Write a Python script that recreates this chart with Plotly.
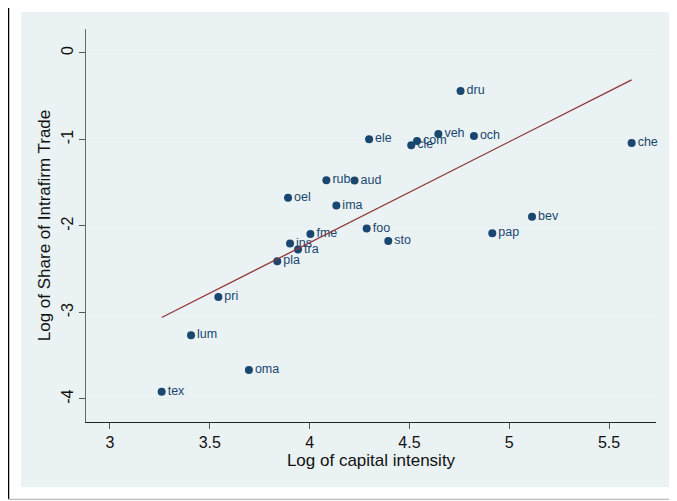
import numpy as np
import plotly.graph_objects as go

industries = ["dru", "ele", "com", "cle", "veh", "och", "che", "rub", "aud", "oel",
              "ima", "bev", "foo", "pap", "fme", "sto", "ins", "tra", "pla", "pri",
              "lum", "oma", "tex"]
log_capital = [4.756, 4.298, 4.538, 4.509, 4.645, 4.823, 5.613, 4.084, 4.225, 3.892,
               4.134, 5.114, 4.286, 4.915, 4.004, 4.394, 3.902, 3.942, 3.838, 3.543,
               3.406, 3.696, 3.259]
log_share = [-0.441, -0.997, -1.017, -1.067, -0.936, -0.960, -1.040, -1.470, -1.474, -1.674,
             -1.764, -1.892, -2.029, -2.083, -2.092, -2.174, -2.204, -2.273, -2.408, -2.821,
             -3.262, -3.665, -3.917]

x_ticks = [3, 3.5, 4, 4.5, 5, 5.5]
x_tick_text = ["3", "3.5", "4", "4.5", "5", "5.5"]
y_ticks = [0, -1, -2, -3, -4]
y_tick_text = ["0", "-1", "-2", "-3", "-4"]

NAVY = "#1A476F"
MAROON = "#90353B"
BG = "#EAF2F3"
FONT = "Liberation Sans, Arial, sans-serif"

slope, intercept = np.polyfit(log_capital, log_share, 1)
fit_x = [min(log_capital), max(log_capital)]
fit_y = [intercept + slope * v for v in fit_x]

fig = go.Figure()
fig.add_trace(go.Scatter(
    x=log_capital, y=log_share, mode="markers+text", text=industries,
    textposition="middle right", cliponaxis=False,
    textfont=dict(family=FONT, size=12.5, color=NAVY),
    marker=dict(color=NAVY, size=8, line=dict(width=0)),
    showlegend=False, hoverinfo="skip",
))
fig.add_trace(go.Scatter(
    x=fit_x, y=fit_y, mode="lines",
    line=dict(color=MAROON, width=1.3),
    showlegend=False, hoverinfo="skip",
))

# page offset of 8px (body margin) compensated: figure px = page px - 8
OFF = 8
W, H = 677, 501
L, R, T, B = 86 - OFF, 656 - OFF, 29 - OFF, 422 - OFF
pw, ph = R - L, B - T


def px(v):
    return (v - OFF - L) / pw


def py(v):
    return (B - (v - OFF)) / ph


shapes = [
    dict(type="rect", xref="paper", yref="paper", layer="below",
         x0=px(21), x1=px(673), y0=py(487), y1=py(12),
         fillcolor=BG, line=dict(width=0)),
    dict(type="line", xref="paper", yref="paper",
         x0=px(8.6), x1=px(8.6), y0=py(0), y1=py(499),
         line=dict(color="#000000", width=1.3)),
    dict(type="line", xref="paper", yref="paper",
         x0=px(7), x1=px(690), y0=py(499.3), y1=py(499.3),
         line=dict(color="#BBBBBB", width=1.3)),
]

fig.update_layout(
    width=W, height=H,
    margin=dict(l=L, r=W - R, t=T, b=H - B),
    paper_bgcolor="white", plot_bgcolor="white",
    font=dict(family=FONT, size=16, color="#111111"),
    shapes=shapes,
    xaxis=dict(
        range=[2.88, 5.735], tickvals=x_ticks, ticktext=x_tick_text,
        showgrid=False, zeroline=False,
        showline=True, linecolor="#222222", linewidth=1,
        ticks="outside", ticklen=6, tickcolor="#555555",
        tickfont=dict(size=16),
        title=dict(text="Log of capital intensity", font=dict(size=17), standoff=0),
    ),
    yaxis=dict(
        range=[-4.266, 0.277], tickvals=y_ticks, ticktext=y_tick_text,
        showgrid=True, gridcolor="#E6EEF0", gridwidth=1, zeroline=False,
        showline=True, linecolor="#666666", linewidth=1,
        ticks="outside", ticklen=6, tickcolor="#555555",
        tickangle=-90, tickfont=dict(size=16),
        title=dict(text="Log of Share of Intrafirm Trade", font=dict(size=17), standoff=3),
    ),
)

fig.write_html("out.html")
